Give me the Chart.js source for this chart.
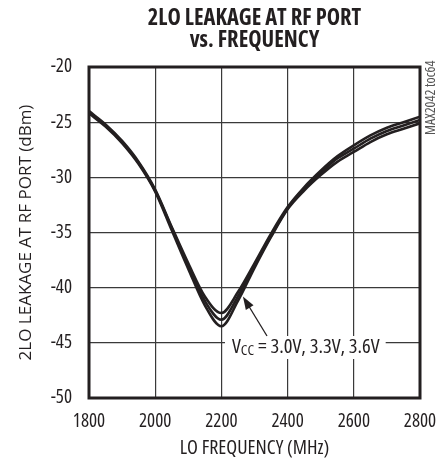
<!DOCTYPE html>
<html lang="en">

<head>
    <meta charset="UTF-8">
    <title>2LO Leakage at RF Port vs. Frequency</title>
    <script src="https://cdn.jsdelivr.net/npm/chart.js"></script>
    <style>
        html, body {
            margin: 0;
            padding: 0;
            background: #ffffff;
        }

        .chart-box {
            width: 445px;
            height: 460px;
        }
    </style>
</head>

<body>
    <div class="chart-box">
        <canvas id="leakChart" width="445" height="460"></canvas>
    </div>

    <script>
        // LO frequency (MHz)
        const freqs = [1800, 1850, 1900, 1950, 2000, 2050, 2100, 2150, 2200, 2250, 2300,
            2350, 2400, 2450, 2500, 2550, 2600, 2650, 2700, 2750, 2800];

        // 2LO leakage (dBm), one trace per supply voltage
        const leakA = [-24.0, -25.2, -26.7, -28.6, -31.1, -34.5, -37.8, -40.8, -42.3, -40.4, -37.8,
            -35.1, -32.7, -30.9, -29.4, -28.1, -27.1, -26.2, -25.5, -25.0, -24.5];
        const leakB = [-24.1, -25.3, -26.8, -28.7, -31.2, -34.6, -38.0, -41.2, -42.9, -40.8, -38.0,
            -35.3, -32.8, -31.0, -29.6, -28.3, -27.4, -26.5, -25.8, -25.3, -24.8];
        const leakC = [-24.2, -25.4, -26.9, -28.8, -31.3, -34.8, -38.3, -41.6, -43.5, -41.2, -38.2,
            -35.4, -32.9, -31.2, -29.8, -28.6, -27.7, -26.8, -26.1, -25.6, -25.1];

        const yTicks = [-50, -45, -40, -35, -30, -25, -20];
        const xTicks = [1800, 2000, 2200, 2400, 2600, 2800];

        const titleLines = ["2LO LEAKAGE AT RF PORT", "vs. FREQUENCY"];
        const noteMain = "V";
        const noteSub = "CC";
        const noteRest = " = 3.0V, 3.3V, 3.6V";
        const tocLabel = "MAX2042 toc64";

        const face = '"Open Sans", "DejaVu Sans Condensed", sans-serif';
        // Chart.js passes weight straight into ctx.font, so the width keyword rides along there
        const narrowWeight = "condensed";
        const ink = "#231f20";

        function toPoints(ys) {
            return freqs.map((f, i) => ({ x: f, y: ys[i] }));
        }

        const traceStyle = {
            borderColor: ink,
            borderWidth: 2.6,
            pointRadius: 0,
            fill: false,
            cubicInterpolationMode: "monotone"
        };

        const extras = {
            id: "extras",
            afterDatasetsDraw(chart) {
                const ctx = chart.ctx;
                const area = chart.chartArea;
                const xs = chart.scales.x;
                const ys = chart.scales.y;
                ctx.save();

                // heavy frame
                ctx.strokeStyle = ink;
                ctx.lineWidth = 3;
                ctx.strokeRect(area.left, area.top, area.right - area.left, area.bottom - area.top);

                // title
                ctx.fillStyle = ink;
                ctx.textAlign = "center";
                ctx.textBaseline = "alphabetic";
                ctx.font = "condensed bold 22.5px " + face;
                const cx = (area.left + area.right) / 2;
                ctx.fillText(titleLines[0], cx, 25);
                ctx.fillText(titleLines[1], cx, 47);

                // note with arrow
                const big = "condensed 20.5px " + face;
                const small = "condensed 15px " + face;
                ctx.font = big;
                const wMain = ctx.measureText(noteMain).width;
                const wRest = ctx.measureText(noteRest).width;
                ctx.font = small;
                const wSub = ctx.measureText(noteSub).width;
                const tx = 232;
                const base = 353;
                ctx.fillStyle = "#ffffff";
                ctx.fillRect(tx - 7, 336, wMain + wSub + wRest + 13, 23);
                ctx.fillStyle = ink;
                ctx.textAlign = "left";
                ctx.font = big;
                ctx.fillText(noteMain, tx, base);
                ctx.font = small;
                ctx.fillText(noteSub, tx + wMain, base + 2);
                ctx.font = big;
                ctx.fillText(noteRest, tx + wMain + wSub, base);

                const x0 = 267, y0 = 336;
                const x1 = xs.getPixelForValue(2265), y1 = ys.getPixelForValue(-40.8);
                const ang = Math.atan2(y1 - y0, x1 - x0);
                ctx.strokeStyle = ink;
                ctx.lineWidth = 1.3;
                ctx.beginPath();
                ctx.moveTo(x0, y0);
                ctx.lineTo(x1 - 10 * Math.cos(ang), y1 - 10 * Math.sin(ang));
                ctx.stroke();
                ctx.beginPath();
                ctx.moveTo(x1, y1);
                ctx.lineTo(x1 - 13 * Math.cos(ang) + 4.5 * Math.sin(ang), y1 - 13 * Math.sin(ang) - 4.5 * Math.cos(ang));
                ctx.lineTo(x1 - 13 * Math.cos(ang) - 4.5 * Math.sin(ang), y1 - 13 * Math.sin(ang) + 4.5 * Math.cos(ang));
                ctx.closePath();
                ctx.fill();

                // side code
                ctx.font = "condensed 14px " + face;
                ctx.fillStyle = "#555";
                ctx.translate(431, 135);
                ctx.rotate(-Math.PI / 2);
                ctx.textAlign = "left";
                ctx.textBaseline = "middle";
                ctx.fillText(tocLabel, 0, 0);
                ctx.restore();
            }
        };

        new Chart(document.getElementById("leakChart"), {
            type: "line",
            data: {
                datasets: [
                    Object.assign({ label: "3.0V", data: toPoints(leakA) }, traceStyle),
                    Object.assign({ label: "3.3V", data: toPoints(leakB) }, traceStyle),
                    Object.assign({ label: "3.6V", data: toPoints(leakC) }, traceStyle)
                ]
            },
            options: {
                responsive: false,
                animation: false,
                layout: { padding: { top: 67, right: 25, left: 0, bottom: 0 } },
                plugins: {
                    legend: { display: false },
                    tooltip: { enabled: false }
                },
                scales: {
                    x: {
                        type: "linear",
                        min: 1800,
                        max: 2800,
                        afterBuildTicks(scale) {
                            scale.ticks = xTicks.map(v => ({ value: v }));
                        },
                        afterFit(scale) {
                            scale.height = 62;
                            scale.paddingLeft = 0;
                            scale.paddingRight = 0;
                        },
                        grid: { color: "#3a3a3a", lineWidth: 1.2, drawTicks: false },
                        border: { display: false },
                        ticks: {
                            color: ink,
                            padding: 12,
                            maxRotation: 0,
                            callback: v => String(v),
                            font: { family: face, weight: narrowWeight, size: 19 }
                        },
                        title: {
                            display: true,
                            text: "LO FREQUENCY (MHz)",
                            color: ink,
                            padding: { top: 0, bottom: 0 },
                            font: { family: face, weight: narrowWeight, size: 20 }
                        }
                    },
                    y: {
                        min: -50,
                        max: -20,
                        afterBuildTicks(scale) {
                            scale.ticks = yTicks.map(v => ({ value: v }));
                        },
                        afterFit(scale) {
                            scale.width = 89;
                            scale.paddingTop = 0;
                            scale.paddingBottom = 0;
                        },
                        grid: { color: "#3a3a3a", lineWidth: 1.2, drawTicks: false },
                        border: { display: false },
                        ticks: {
                            color: ink,
                            padding: 17,
                            callback: v => String(v),
                            font: { family: face, weight: narrowWeight, size: 19 }
                        },
                        title: {
                            display: true,
                            text: "2LO LEAKAGE AT RF PORT (dBm)",
                            color: ink,
                            padding: { top: 16, bottom: 0 },
                            font: { family: face, size: 17 }
                        }
                    }
                }
            },
            plugins: [extras]
        });
    </script>
</body>

</html>
